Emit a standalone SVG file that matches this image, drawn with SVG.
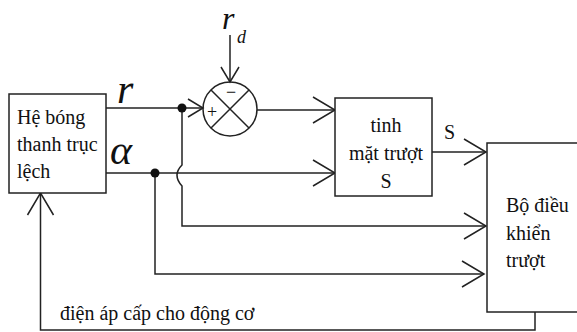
<svg xmlns="http://www.w3.org/2000/svg" width="577" height="332" viewBox="0 0 577 332">
<style>
.ln{fill:none;stroke:#222;stroke-width:1.5}
.bx{fill:#fff;stroke:#222;stroke-width:1.5}
text{fill:#111}
</style>
<defs>
<marker id="big" markerUnits="userSpaceOnUse" markerWidth="30" markerHeight="30" refX="24" refY="14" orient="auto" overflow="visible">
<path d="M2,1 L24,14 L2,27" fill="none" stroke="#222" stroke-width="1.5"/>
</marker>
<marker id="sm" markerUnits="userSpaceOnUse" markerWidth="20" markerHeight="20" refX="16" refY="10" orient="auto" overflow="visible">
<path d="M1,1 L16,10 L1,19" fill="none" stroke="#222" stroke-width="1.5"/>
</marker>
</defs>
<g id="connectors">
<path class="ln" d="M106,108 H203" marker-end="url(#sm)"/>
<path class="ln" d="M230,35 V82" marker-end="url(#sm)"/>
<path class="ln" d="M257,110 H335" marker-end="url(#big)"/>
<path class="ln" d="M106,173 H335" marker-end="url(#big)"/>
<path class="ln" d="M432,152 H486" marker-end="url(#big)"/>
<path class="ln" d="M182,108 V165 Q172,175 182,186 V226 H486" marker-end="url(#big)"/>
<path class="ln" d="M155,173 V274 H484" marker-end="url(#big)"/>
<path class="ln" d="M535,312 V330 H40.5 V193" marker-end="url(#big)"/>
<circle cx="182" cy="108" r="4.5" fill="#111"/>
<circle cx="155" cy="173" r="4.5" fill="#111"/>
</g>
<g id="sum" font-family="Liberation Serif, serif" font-size="18">
<circle class="ln" cx="230" cy="109" r="27"/>
<path class="ln" d="M211,90 L249,128 M249,90 L211,128"/>
<text x="212" y="118" text-anchor="middle">+</text>
<text x="231" y="98" text-anchor="middle">−</text>
</g>
<g id="he-bong" font-family="Liberation Serif, serif" font-size="20">
<rect class="bx" x="9" y="94" width="97" height="99"/>
<text x="17" y="124">Hệ bóng</text>
<text x="17" y="151">thanh trục</text>
<text x="17" y="178">lệch</text>
</g>
<g id="tinh-mat-truot" font-family="Liberation Serif, serif" font-size="20">
<rect class="bx" x="335" y="98" width="97" height="98"/>
<text x="386" y="132" text-anchor="middle">tinh</text>
<text x="386" y="160" text-anchor="middle">mặt trượt</text>
<text x="386" y="188" text-anchor="middle">S</text>
</g>
<g id="bo-dieu-khien" font-family="Liberation Serif, serif" font-size="20">
<rect class="bx" x="487" y="143" width="100" height="169"/>
<text x="506" y="212">Bộ điều</text>
<text x="506" y="240">khiển</text>
<text x="506" y="267">trượt</text>
</g>
<g id="labels" font-family="Liberation Serif, serif" font-size="20">
<text x="117" y="103" font-size="42" font-style="italic">r</text>
<text x="110" y="164" font-size="42" font-style="italic">α</text>
<text x="222" y="29" font-size="32" font-style="italic">r</text>
<text x="237" y="43" font-size="18" font-style="italic">d</text>
<text x="444" y="139">S</text>
<text x="60" y="320">điện áp cấp cho động cơ</text>
</g>
</svg>
